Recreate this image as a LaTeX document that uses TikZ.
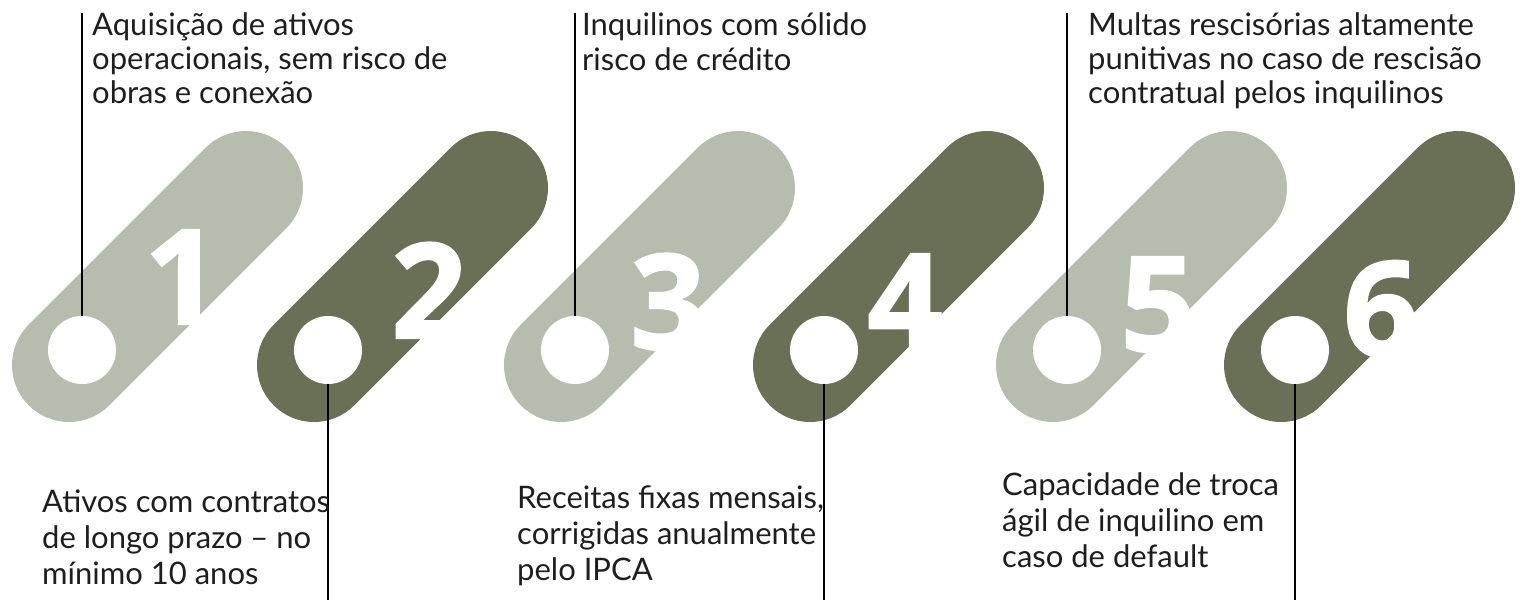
\documentclass[tikz,border=0pt]{standalone}
\usepackage{fontspec}
\setmainfont{Lato}
\newfontfamily\numfont[BoldFeatures={FakeBold=1.5}]{Open Sans}
\definecolor{pillLight}{RGB}{182,189,174}
\definecolor{pillDark}{RGB}{106,112,86}
\definecolor{txt}{RGB}{30,30,30}
\tikzset{
  pill/.style={line width=114pt, line cap=round},
  hole/.style={circle, fill=white, minimum size=68pt, inner sep=0pt},
  digit/.style={text=white, font=\numfont\bfseries\fontsize{132}{132}\selectfont, inner sep=0pt, anchor=base},
  leader/.style={line width=2pt, black},
  desc/.style={align=left, inner sep=0pt, text=txt, anchor=base west}
}
\begin{document}
\begin{tikzpicture}[x=1pt,y=-1pt]
\useasboundingbox (0,0) rectangle (1525,600);
% pills
\draw[pill, pillLight] (69,365) -- (246,188);
\draw[pill, pillDark]  (314,365) -- (491,188);
\draw[pill, pillLight] (561,365) -- (738,188);
\draw[pill, pillDark]  (810,365) -- (987,188);
\draw[pill, pillLight] (1053,365) -- (1230,188);
\draw[pill, pillDark]  (1281,365) -- (1458,188);
% digits
\node[digit] (d1) at (182,324) {1};
\node[digit] (d2) at (429,338) {2};
\node[digit] (d3) at (668,349) {3};
\node[digit] (d4) at (905,348) {4};
\node[digit] (d5) at (1158,351) {5};
\node[digit] (d6) at (1381,356) {6};
% holes
\node[hole] (c1) at (82,350) {};
\node[hole] (c2) at (328,350) {};
\node[hole] (c3) at (575,350) {};
\node[hole] (c4) at (824,350) {};
\node[hole] (c5) at (1067,350) {};
\node[hole] (c6) at (1295,350) {};
% leader ends
\coordinate (e1) at (82,13);
\coordinate (e2) at (328,600);
\coordinate (e3) at (575,13);
\coordinate (e4) at (824,600);
\coordinate (e5) at (1067,13);
\coordinate (e6) at (1295,600);
\draw[leader] (c1.north) -- (e1);
\draw[leader] (c2.south) -- (e2);
\draw[leader] (c3.north) -- (e3);
\draw[leader] (c4.south) -- (e4);
\draw[leader] (c5.north) -- (e5);
\draw[leader] (c6.south) -- (e6);
% texts (anchor = baseline of last line)
\node[desc, font=\fontsize{31}{34}\selectfont] (t1) at (92,103) {Aquisição de ativos\\operacionais, sem risco de\\obras e conexão};
\node[desc, font=\fontsize{31}{35}\selectfont] (t3) at (582,70) {Inquilinos com sólido\\risco de crédito};
\node[desc, font=\fontsize{31}{34}\selectfont] (t5) at (1088,103) {Multas rescisórias altamente\\punitivas no caso de rescisão\\contratual pelos inquilinos};
\node[desc, font=\fontsize{31}{36}\selectfont] (t2) at (42,584) {Ativos com contratos\\de longo prazo – no\\mínimo 10 anos};
\node[desc, font=\fontsize{31}{36}\selectfont] (t4) at (517,580) {Receitas fixas mensais,\\corrigidas anualmente\\pelo IPCA};
\node[desc, font=\fontsize{31}{36}\selectfont] (t6) at (1002,567) {Capacidade de troca\\ágil de inquilino em\\caso de default};
\end{tikzpicture}
\end{document}
